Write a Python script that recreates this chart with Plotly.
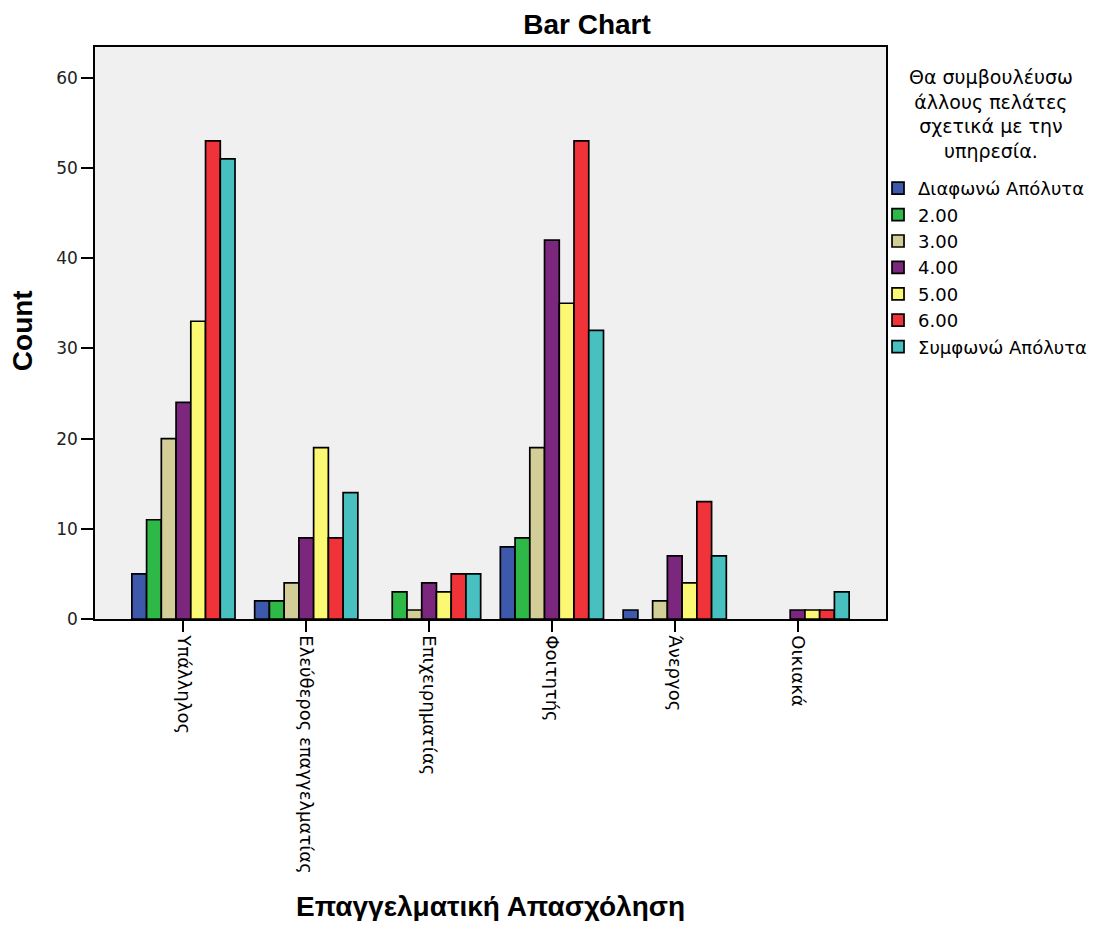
import plotly.graph_objects as go

categories = ["Υπάλληλος", "Ελεύθερος επαγγελματίας", "Επιχειρηματίας", "Φοιτητής", "Άνεργος", "Οικιακά"]
series_names = ["Διαφωνώ Απόλυτα", "2.00", "3.00", "4.00", "5.00", "6.00", "Συμφωνώ Απόλυτα"]
s1 = [5, 2, 0, 8, 1, 0]
s2 = [11, 2, 3, 9, 0, 0]
s3 = [20, 4, 1, 19, 2, 0]
s4 = [24, 9, 4, 42, 7, 1]
s5 = [33, 19, 3, 35, 4, 1]
s6 = [53, 9, 5, 53, 13, 1]
s7 = [51, 14, 5, 32, 7, 3]
series_values = [s1, s2, s3, s4, s5, s6, s7]
colors = ["#3E58AC", "#2EB848", "#D3CE97", "#7B277D", "#FBF873", "#EF3338", "#48C0C0"]
legend_title = "Θα συμβουλέυσω<br>άλλους πελάτες<br>σχετικά με την<br>υπηρεσία."

fig = go.Figure()
for name, vals, col in zip(series_names, series_values, colors):
    fig.add_trace(go.Bar(
        x=categories, y=[v if v else None for v in vals], name=name,
        marker=dict(color=col, line=dict(color="black", width=1.7)),
    ))

sans = "Liberation Sans, Arial, sans-serif"
wide = "DejaVu Sans, Verdana, sans-serif"

# page offset of 8px (body margin)
W, H = 1096, 913
L, T = 87, 39
R = W + 8 - 888
B = H + 8 - 619
PW = W - L - R
PH = H - T - B

fig.update_layout(
    width=W, height=H,
    barmode="group", bargap=0.16, bargroupgap=0,
    paper_bgcolor="white", plot_bgcolor="#F0F0F0",
    margin=dict(l=L, r=R, t=T, b=B),
    font=dict(family=wide, color="black", size=16),
    title=dict(text="<b>Bar Chart</b>", x=(587 - 8) / W, xanchor="center",
               y=1 - 16 / H, yanchor="middle", font=dict(size=28, family=sans)),
    legend=dict(
        x=1 - 8 / PW, xanchor="left", y=(611 - 162) / PH, yanchor="top",
        font=dict(size=18, family=wide), bgcolor="rgba(0,0,0,0)",
        tracegroupgap=0,
    ),
    showlegend=True,
    annotations=[
        dict(text="<b>Επαγγελματική Απασχόληση</b>", xref="paper", yref="paper",
             x=0.5, y=(611 - 898) / PH, xanchor="center", yanchor="middle",
             showarrow=False, font=dict(size=28, family=sans)),
        dict(text="<b>Count</b>", xref="paper", yref="paper", textangle=-90,
             x=(22 - 95) / PW, y=(611 - 323) / PH, xanchor="center", yanchor="middle",
             showarrow=False, font=dict(size=28, family=sans)),
        dict(text=legend_title, xref="paper", yref="paper", align="center",
             x=(993 - 95) / PW, y=(611 - 106) / PH, xanchor="center", yanchor="middle",
             showarrow=False, font=dict(size=19, family=wide)),
    ],
)
fig.update_xaxes(
    range=[-0.72, 5.72], tickangle=90, showline=True, linecolor="black", linewidth=1.5,
    mirror=True, ticks="outside", ticklen=11, tickcolor="black", tickwidth=1.5,
    tickfont=dict(size=18, family=wide), showgrid=False,
)
fig.update_yaxes(
    range=[0, 63.4], tickvals=[0, 10, 20, 30, 40, 50, 60], showline=True, linecolor="black",
    linewidth=1.5, mirror=True, ticks="outside", ticklen=12, tickcolor="black", tickwidth=1.5,
    tickfont=dict(size=17, color="#222222", family=wide),
    showgrid=False, zeroline=False,
)
fig.write_html("out.html")
